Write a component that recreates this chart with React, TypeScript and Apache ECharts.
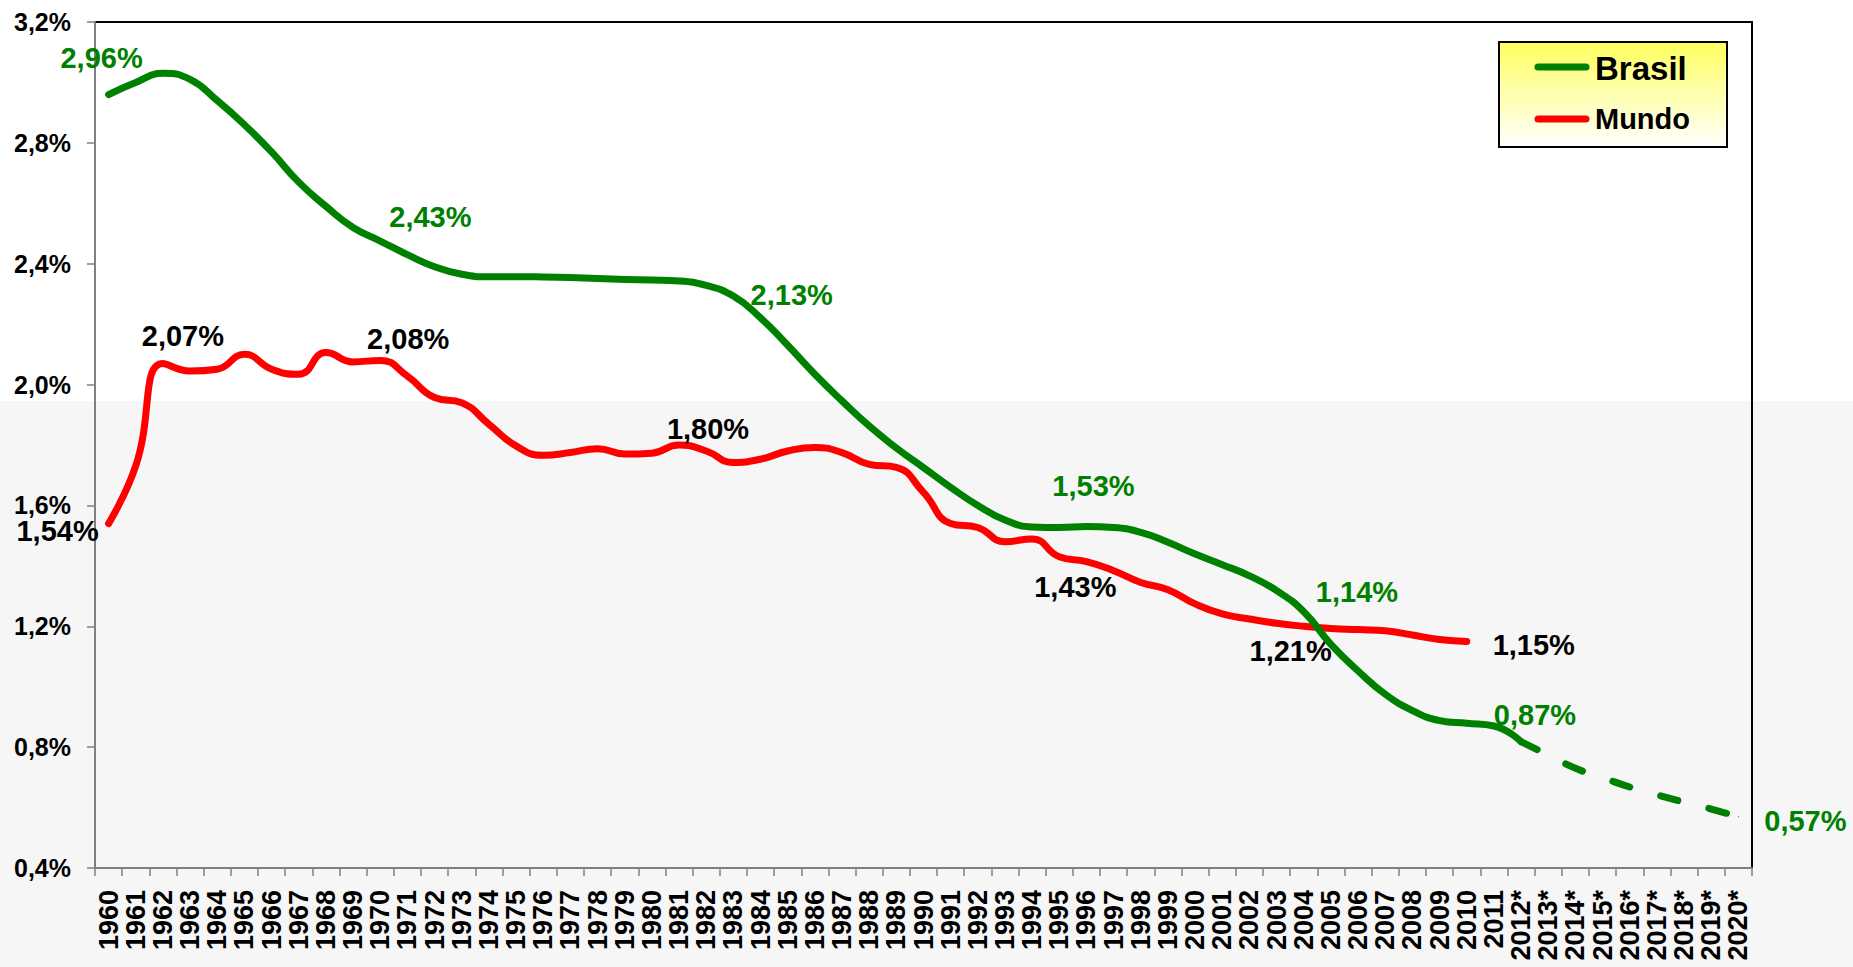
import React, { useEffect, useRef } from "react";
import * as echarts from "echarts";

const years: string[] = [
  "1960", "1961", "1962", "1963", "1964", "1965", "1966", "1967", "1968", "1969",
  "1970", "1971", "1972", "1973", "1974", "1975", "1976", "1977", "1978", "1979",
  "1980", "1981", "1982", "1983", "1984", "1985", "1986", "1987", "1988", "1989",
  "1990", "1991", "1992", "1993", "1994", "1995", "1996", "1997", "1998", "1999",
  "2000", "2001", "2002", "2003", "2004", "2005", "2006", "2007", "2008", "2009",
  "2010", "2011", "2012*", "2013*", "2014*", "2015*", "2016*", "2017*", "2018*",
  "2019*", "2020*",
];

// Brasil 1960–2012 (solid)
const brasil: number[] = [
  2.96, 3.0, 3.03, 3.01, 2.94, 2.86, 2.77, 2.67, 2.59, 2.52,
  2.475, 2.43, 2.39, 2.365, 2.357, 2.357, 2.356, 2.354, 2.351, 2.348,
  2.346, 2.343, 2.328, 2.293, 2.221, 2.13, 2.034, 1.946, 1.863, 1.79,
  1.725, 1.66, 1.6, 1.552, 1.529, 1.527, 1.53, 1.527, 1.511, 1.478,
  1.439, 1.404, 1.367, 1.318, 1.248, 1.14, 1.052, 0.975, 0.921, 0.888,
  0.879, 0.87, 0.818,
];

// Brasil projection 2012*–2020* (dashed)
const brasilProjecao: number[] = [0.818, 0.774, 0.73, 0.699, 0.668, 0.642, 0.618, 0.595, 0.57];

// Mundo 1960–2010
const mundo: number[] = [
  1.54, 1.731, 2.07, 2.045, 2.051, 2.1, 2.051, 2.034, 2.106, 2.075,
  2.08, 2.028, 1.957, 1.94, 1.869, 1.797, 1.766, 1.775, 1.788, 1.77,
  1.773, 1.8, 1.78, 1.742, 1.753, 1.78, 1.792, 1.775, 1.736, 1.726,
  1.643, 1.54, 1.527, 1.48, 1.489, 1.43, 1.414, 1.384, 1.345, 1.321,
  1.274, 1.241, 1.224, 1.21, 1.2, 1.193, 1.189, 1.185, 1.171, 1.156,
  1.15,
];

const yTicks: number[] = [0.4, 0.8, 1.2, 1.6, 2.0, 2.4, 2.8, 3.2];

// annotated years (labels shown at these points)
const brasilLabelYears: string[] = ["1960", "1971", "1985", "1996", "2005", "2011"];
const projecaoLabelYears: string[] = ["2020*"];
const mundoLabelYears: string[] = ["1960", "1962", "1970", "1981", "1995", "2003", "2010"];

// label offsets (px) relative to each point
const labelOffsets: Record<string, Record<string, [number, number]>> = {
  brasil: {
    "1960": [-7, -37],
    "1971": [23, -38],
    "1985": [4, -50],
    "1996": [7, -41],
    "2005": [26, -52],
    "2011": [41, -11],
  },
  projecao: { "2020*": [67, 4] },
  mundo: {
    "1960": [-51, 7],
    "1962": [20, -27],
    "1970": [28, -21],
    "1981": [29, -16],
    "1995": [16, 30],
    "2003": [14, 28],
    "2010": [67, 4],
  },
};

const GREEN = "#008000";
const RED = "#ff0000";
const FONT = "Arial, 'Liberation Sans', sans-serif";

const fmtPct = (v: number, d: number) => v.toFixed(d).replace(".", ",") + "%";

function buildData(
  values: number[],
  startIndex: number,
  labelYears: string[],
  offsets: Record<string, [number, number]>,
  color: string
) {
  const out: any[] = years.map(() => null);
  values.forEach((v, i) => {
    const idx = startIndex + i;
    const yr = years[idx];
    if (labelYears.includes(yr)) {
      out[idx] = {
        value: v,
        symbol: "circle",
        symbolSize: 1,
        label: {
          show: true,
          position: "inside",
          offset: offsets[yr],
          formatter: () => fmtPct(v, 2),
          color,
          fontSize: 29,
          fontWeight: "bold",
          fontFamily: FONT,
        },
      };
    } else {
      out[idx] = v;
    }
  });
  return out;
}

export default function App() {
  const ref = useRef<HTMLDivElement>(null);

  useEffect(() => {
    if (!ref.current) return;
    const chart = echarts.init(ref.current, undefined, { renderer: "svg" });

    const option: any = {
      animation: false,
      backgroundColor: "#ffffff",
      grid: { left: 95, top: 22, width: 1657, height: 846, containLabel: false },
      xAxis: [
        {
          type: "category",
          data: years,
          boundaryGap: true,
          axisLine: { show: true, lineStyle: { color: "#808080", width: 2 } },
          axisTick: { show: true, inside: false, length: 8, interval: 0, lineStyle: { color: "#808080", width: 1.5 } },
          axisLabel: {
            interval: 0,
            rotate: 90,
            margin: 22,
            color: "#000",
            fontSize: 27,
            fontWeight: "bold",
            fontFamily: FONT,
          },
          splitLine: { show: false },
          z: 3,
        },
        {
          type: "category",
          data: years,
          position: "top",
          axisLine: { show: true, lineStyle: { color: "#000", width: 2 } },
          axisTick: { show: false },
          axisLabel: { show: false },
          splitLine: { show: false },
        },
      ],
      yAxis: [
        {
          type: "value",
          min: 0.4,
          max: 3.2,
          interval: 0.4,
          axisLine: { show: true, lineStyle: { color: "#808080", width: 2 } },
          axisTick: { show: true, inside: false, length: 8, lineStyle: { color: "#808080", width: 1.5 } },
          axisLabel: {
            margin: 24,
            color: "#000",
            fontSize: 25,
            fontWeight: "bold",
            fontFamily: FONT,
            formatter: (v: number) => {
              const t = yTicks.find((k) => Math.abs(k - v) < 1e-6);
              return fmtPct(t !== undefined ? t : v, 1);
            },
          },
          splitLine: { show: false },
          z: 3,
        },
        {
          type: "value",
          min: 0.4,
          max: 3.2,
          interval: 0.4,
          position: "right",
          axisLine: { show: true, lineStyle: { color: "#000", width: 2 } },
          axisTick: { show: false },
          axisLabel: { show: false },
          splitLine: { show: false },
        },
      ],
      graphic: [
        {
          type: "rect",
          z: -100,
          silent: true,
          shape: { x: 0, y: 401, width: 1853, height: 566 },
          style: { fill: "#f6f6f6" },
        },
        {
          type: "group",
          z: 100,
          silent: true,
          children: [
            {
              type: "rect",
              shape: { x: 1499, y: 42, width: 228, height: 105 },
              style: {
                fill: new echarts.graphic.LinearGradient(0, 0, 0, 1, [
                  { offset: 0, color: "#ffff5e" },
                  { offset: 1, color: "#ffffff" },
                ]),
                stroke: "#000",
                lineWidth: 2,
              },
            },
            {
              type: "line",
              shape: { x1: 1538, y1: 67, x2: 1586, y2: 67 },
              style: { stroke: GREEN, lineWidth: 7, lineCap: "round" },
            },
            {
              type: "line",
              shape: { x1: 1538, y1: 119, x2: 1586, y2: 119 },
              style: { stroke: RED, lineWidth: 7, lineCap: "round" },
            },
            {
              type: "text",
              x: 1595,
              y: 68,
              style: {
                text: "Brasil",
                fill: "#000",
                font: `bold 33px ${FONT}`,
                verticalAlign: "middle",
              },
            },
            {
              type: "text",
              x: 1595,
              y: 119,
              style: {
                text: "Mundo",
                fill: "#000",
                font: `bold 29px ${FONT}`,
                verticalAlign: "middle",
              },
            },
          ],
        },
      ],
      series: [
        {
          name: "Brasil",
          type: "line",
          smooth: 0.5,
          silent: true,
          symbol: "none",
          showSymbol: true,
          itemStyle: { color: GREEN },
          lineStyle: { color: GREEN, width: 7, cap: "round", join: "round" },
          emphasis: { disabled: true },
          data: buildData(brasil, 0, brasilLabelYears, labelOffsets.brasil, GREEN),
          z: 4,
        },
        {
          name: "Brasil (projeção)",
          type: "line",
          smooth: 0.5,
          silent: true,
          symbol: "none",
          showSymbol: true,
          itemStyle: { color: GREEN },
          lineStyle: { color: GREEN, width: 7, type: [18, 32], cap: "round" },
          emphasis: { disabled: true },
          data: buildData(brasilProjecao, 52, projecaoLabelYears, labelOffsets.projecao, GREEN),
          z: 4,
        },
        {
          name: "Mundo",
          type: "line",
          smooth: 0.5,
          silent: true,
          symbol: "none",
          showSymbol: true,
          itemStyle: { color: RED },
          lineStyle: { color: RED, width: 7, cap: "round", join: "round" },
          emphasis: { disabled: true },
          data: buildData(mundo, 0, mundoLabelYears, labelOffsets.mundo, "#000"),
          z: 3,
        },
      ],
    };

    chart.setOption(option);
    return () => chart.dispose();
  }, []);

  return (
    <div
      ref={ref}
      style={{ position: "absolute", left: 0, top: 0, width: 1853, height: 967 }}
    />
  );
}
